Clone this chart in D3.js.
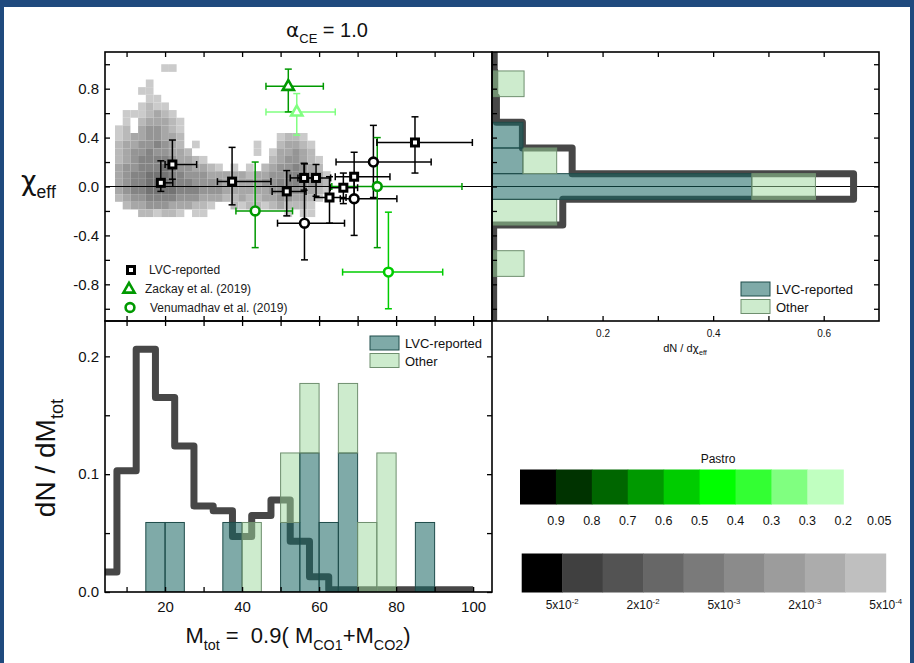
<!DOCTYPE html>
<html>
<head>
<meta charset="utf-8">
<script src="https://cdn.jsdelivr.net/npm/d3@7"></script>
<style>
  body { margin: 0; background: #1f4a7e; }
  svg { display: block; }
</style>
</head>
<body>
<svg id="chart" width="914" height="663"></svg>
<script>
// ---------- data ----------
const chiTicks = [-1.0, -0.8, -0.6, -0.4, -0.2, 0.0, 0.2, 0.4, 0.6, 0.8, 1.0];
const chiTickLabels = [-0.8, -0.4, 0.0, 0.4, 0.8];
const massTicks = [10, 20, 30, 40, 50, 60, 70, 80, 90, 100];
const massTickLabels = [20, 40, 60, 80, 100];
const chiDensTicks = [0.1, 0.2, 0.3, 0.4, 0.5, 0.6];
const chiDensTickLabels = [0.2, 0.4, 0.6];
const massDensTicks = [0, 0.05, 0.1, 0.15, 0.2];
const massDensTickLabels = [0, 0.1, 0.2];

// model density map (grey cells): rows from chi = 1.0 downwards, columns from M = 7 upwards
const heatM0 = 7, heatDM = 2, heatChiTop = 1.0, heatDChi = 0.0625;
const heatRows = [
  "0000001100000000000000000000",
  "0000000000000000000000000000",
  "0000100000000000000000000000",
  "0001100000000000000000000000",
  "0000110000000000000000000000",
  "0001211000000000000000000000",
  "0111232100000000000000000000",
  "0102333210000000000000000000",
  "1203443210000000000000000000",
  "1233443320000000000001221000",
  "2334454320100000001002332100",
  "2344544332000000001013343200",
  "2345555433210000000023443210",
  "3445556544332101010234454320",
  "3455666554443333323344555431",
  "3455666655444433333445554432",
  "3455666655544433333344544321",
  "2344555544433322322334433210",
  "0233444333221002122123222100",
  "0002212210110000000000101100"
];

// [M, chi, M low, M high, chi low, chi high]
const lvcEvents = [
  [18.9, 0.03, 18.0, 22.0, -0.04, 0.21],
  [21.9, 0.18, 20.0, 28.2, 0.06, 0.38],
  [37.4, 0.04, 33.6, 47.5, -0.15, 0.32],
  [51.6, -0.04, 47.8, 56.6, -0.24, 0.13],
  [56.1, 0.07, 52.5, 59.0, -0.03, 0.19],
  [59.2, 0.07, 54.5, 63.0, -0.08, 0.18],
  [62.7, -0.09, 58.8, 67.0, -0.30, 0.08],
  [66.3, -0.01, 62.9, 70.0, -0.14, 0.11],
  [69.1, 0.08, 64.2, 78.4, -0.09, 0.28],
  [84.9, 0.36, 75.0, 99.8, 0.11, 0.57]
];
// [M, chi, M low, M high, chi low, chi high, Pastro]
const venumadhavEvents = [
  [56.2, -0.30, 49.2, 66.6, -0.60, 0.185, 0.95],
  [69.1, -0.10, 65.5, 80.2, -0.40, 0.10, 0.95],
  [74.1, 0.20, 64.4, 89.1, -0.09, 0.50, 0.95],
  [43.4, -0.20, 38.4, 53.1, -0.50, 0.20, 0.65],
  [75.1, 0.00, 63.3, 97.1, -0.50, 0.40, 0.65],
  [78.0, -0.70, 66.1, 92.1, -1.00, -0.21, 0.55]
];
const zackayEvents = [
  [52.0, 0.82, 46.2, 61.1, 0.61, 0.96, 0.65],
  [54.2, 0.61, 46.2, 64.2, 0.42, 0.76, 0.22]
];

// chi histogram (bins of width 0.21 centred on 0)
const chiBinWidth = 0.21;
const chiBinCenters = [-1.05, -0.84, -0.63, -0.42, -0.21, 0.0, 0.21, 0.42, 0.63, 0.84, 1.05];
const chiLVC   = [0, 0, 0, 0, 0, 0.47, 0.056, 0.056, 0, 0, 0];
const chiOther = [0, 0, 0.058, 0, 0.117, 0.115, 0.061, 0, 0, 0.058, 0];
const chiModel = [0.003, 0.003, 0.003, 0.003, 0.128, 0.654, 0.145, 0.055, 0.008, 0.005, 0.004];

// mass histogram (bins of width 5)
const massBinWidth = 5;
const massBinStart = [15, 20, 25, 30, 35, 40, 45, 50, 55, 60, 65, 70, 75, 80, 85];
const massLVC   = [0.059, 0.059, 0, 0, 0.059, 0, 0, 0.059, 0.118, 0.059, 0.118, 0, 0, 0, 0.059];
const massOther = [0, 0, 0, 0, 0, 0.059, 0, 0.059, 0.059, 0, 0.059, 0.059, 0.118, 0, 0];
const modelMassCenters = [5, 10, 15, 20, 25, 30, 35, 40, 45, 50, 55, 60, 65, 70, 75, 80, 85, 90, 95, 100];
const modelMass = [0.017, 0.103, 0.206, 0.165, 0.124, 0.073, 0.069, 0.047, 0.065, 0.078, 0.043, 0.013,
                   0.002, 0.002, 0.002, 0.002, 0.002, 0.002, 0.002, 0.002];
const modelMassEnd = 100;

// colour bars
const pastroColors = ['#000000', '#003300', '#006600', '#009900', '#00cc00', '#00ff00', '#33ff33', '#80ff80', '#c0ffc0'];
const pastroLabels = ['0.9', '0.8', '0.7', '0.6', '0.5', '0.4', '0.3', '0.3', '0.2', '0.05'];
const greyColors = ['#000000', '#404040', '#535353', '#676767', '#7a7a7a', '#8b8b8b', '#9c9c9c', '#acacac', '#bfbfbf'];
const greyLabels = [['5x10', '-2'], ['2x10', '-2'], ['5x10', '-3'], ['2x10', '-3'], ['5x10', '-4']];
const heatShades = ['none', '#cbcbcb', '#b9b9b9', '#a7a7a7', '#959595', '#848484', '#737373'];

// ---------- setup ----------
const W = 914, H = 663;
const FONT = '"Liberation Sans", Arial, sans-serif';
const GREEK = '"DejaVu Sans", sans-serif';
const L = 105, MID = 492, R = 879, T = 52, HM = 321, B = 592;

const svg = d3.select('#chart').attr('font-family', FONT);
svg.append('rect').attr('width', W).attr('height', H).attr('fill', '#1f4a7e');
svg.append('rect').attr('x', 4).attr('y', 7).attr('width', 906).attr('height', H - 7).attr('fill', '#fff');

const xM = d3.scaleLinear().domain([4.4, 104.9]).range([L, MID]);
const yChi = d3.scaleLinear().domain([-1.1, 1.1]).range([HM, T]);
const xDen = d3.scaleLinear().domain([0, 0.7]).range([MID, R]);
const yDen = d3.scaleLinear().domain([0, 0.23]).range([B, HM]);
const pastroColor = d3.scaleThreshold()
  .domain([0.2, 0.3, 0.4, 0.5, 0.6, 0.7, 0.8, 0.9])
  .range(pastroColors.slice().reverse());

const defs = svg.append('defs');
function clip(id, x, y, w, h) {
  defs.append('clipPath').attr('id', id).append('rect').attr('x', x).attr('y', y).attr('width', w).attr('height', h);
  return `url(#${id})`;
}
const clipTL = clip('ctl', L, T, MID - L, HM - T);
const clipTR = clip('ctr', MID, T, R - MID, HM - T);
const clipBL = clip('cbl', L, HM, MID - L, B - HM);

// text with sub/superscripts; mode 'g' = greek letter
function rich(text, parts, size) {
  let shift = 0;
  text.style('white-space', 'pre');
  parts.forEach(p => {
    const [t, mode] = typeof p === 'string' ? [p, null] : p;
    const target = mode === 'sub' ? size * 0.3 : mode === 'sup' ? -size * 0.42 : 0;
    const small = mode === 'sub' || mode === 'sup';
    const ts = text.append('tspan').attr('dy', target - shift).attr('font-size', small ? size * 0.65 : size).text(t);
    if (mode === 'g') ts.attr('font-family', GREEK);
    shift = target;
  });
  return text;
}

function axis(gen, scale, values, labels, fmt, pos, size, pad) {
  const g = svg.append('g')
    .attr('transform', pos)
    .call(gen(scale).tickValues(values).tickSizeInner(-5).tickSizeOuter(0).tickPadding(pad)
      .tickFormat(d => labels.includes(d) ? fmt(d) : ''));
  g.select('.domain').remove();
  g.attr('font-family', FONT).attr('font-size', size);
  g.selectAll('line').attr('stroke', '#000').attr('stroke-width', 1.3);
  g.selectAll('text').attr('fill', '#111');
  return g;
}
const f1 = d => d.toFixed(1);

// ---------- top-left: chi_eff vs M_tot ----------
const tl = svg.append('g').attr('clip-path', clipTL);
heatRows.forEach((row, r) => {
  row.split('').forEach((ch, c) => {
    const lvl = +ch;
    if (!lvl) return;
    const m0 = heatM0 + c * heatDM, c0 = heatChiTop - r * heatDChi;
    tl.append('rect')
      .attr('x', xM(m0)).attr('width', xM(m0 + heatDM) - xM(m0))
      .attr('y', yChi(c0)).attr('height', yChi(c0 - heatDChi) - yChi(c0))
      .attr('fill', heatShades[lvl]);
  });
});

// zero line through both top panels
svg.append('line').attr('x1', L).attr('x2', R).attr('y1', yChi(0)).attr('y2', yChi(0))
  .attr('stroke', '#000').attr('stroke-width', 1);

function errorBars(g, d, color) {
  const [m, chi, mLo, mHi, cLo, cHi] = d;
  const cap = 3.5;
  const eb = g.append('g').attr('stroke', color).attr('stroke-width', 1.5);
  eb.append('line').attr('x1', xM(mLo)).attr('x2', xM(mHi)).attr('y1', yChi(chi)).attr('y2', yChi(chi));
  eb.append('line').attr('x1', xM(m)).attr('x2', xM(m)).attr('y1', yChi(cLo)).attr('y2', yChi(cHi));
  [mLo, mHi].forEach(v => eb.append('line').attr('x1', xM(v)).attr('x2', xM(v))
    .attr('y1', yChi(chi) - cap).attr('y2', yChi(chi) + cap));
  [cLo, cHi].forEach(v => eb.append('line').attr('y1', yChi(v)).attr('y2', yChi(v))
    .attr('x1', xM(m) - cap).attr('x2', xM(m) + cap));
}

function marker(g, type, x, y, color) {
  if (type === 'square') {
    g.append('rect').attr('x', x - 3.5).attr('y', y - 3.5).attr('width', 7).attr('height', 7)
      .attr('fill', '#fff').attr('stroke', color).attr('stroke-width', 3);
  } else if (type === 'circle') {
    g.append('circle').attr('cx', x).attr('cy', y).attr('r', 4.4)
      .attr('fill', '#fff').attr('stroke', color).attr('stroke-width', 2.6);
  } else {
    g.append('path').attr('d', `M${x},${y - 6.2}L${x + 5.6},${y + 3.6}L${x - 5.6},${y + 3.6}Z`)
      .attr('fill', '#fff').attr('stroke', color).attr('stroke-width', 2.6).attr('stroke-linejoin', 'miter');
  }
}

const pts = svg.append('g').attr('clip-path', clipTL);
zackayEvents.slice().reverse().forEach(d => errorBars(pts, d, pastroColor(d[6])));
venumadhavEvents.forEach(d => errorBars(pts, d, pastroColor(d[6])));
lvcEvents.forEach(d => errorBars(pts, d, '#000'));
zackayEvents.slice().reverse().forEach(d => marker(pts, 'triangle', xM(d[0]), yChi(d[1]), pastroColor(d[6])));
venumadhavEvents.forEach(d => marker(pts, 'circle', xM(d[0]), yChi(d[1]), pastroColor(d[6])));
lvcEvents.forEach(d => marker(pts, 'square', xM(d[0]), yChi(d[1]), '#000'));

// legend
const leg = svg.append('g').attr('font-size', 12).attr('fill', '#1a1a1a');
marker(leg, 'square', 131, 270, '#000');
marker(leg, 'triangle', 129, 289, '#009900');
marker(leg, 'circle', 130, 307.5, '#009900');
leg.append('text').attr('x', 149).attr('y', 274).text('LVC-reported');
leg.append('text').attr('x', 145).attr('y', 293).text('Zackay et al. (2019)');
leg.append('text').attr('x', 150).attr('y', 312).text('Venumadhav et al. (2019)');

// axes of top-left
axis(d3.axisLeft, yChi, chiTicks, chiTickLabels, f1, `translate(${L},0)`, 15, 6);
axis(d3.axisTop, xM, massTicks, [], f1, `translate(0,${T})`, 15, 6);
axis(d3.axisBottom, xM, massTicks, [], f1, `translate(0,${HM})`, 15, 6);

// ---------- top-right: chi_eff histogram ----------
const tr = svg.append('g').attr('clip-path', clipTR);
const chiModelPts = [];
chiBinCenters.forEach((c, i) => {
  chiModelPts.push([chiModel[i], c - chiBinWidth / 2], [chiModel[i], c + chiBinWidth / 2]);
});
tr.append('path')
  .attr('d', d3.line().x(d => xDen(d[0])).y(d => yChi(d[1]))(chiModelPts))
  .attr('fill', 'none').attr('stroke', '#474747').attr('stroke-width', 7).attr('stroke-linejoin', 'round');

chiBinCenters.forEach((c, i) => {
  const y0 = yChi(c + chiBinWidth / 2), h = yChi(c - chiBinWidth / 2) - y0;
  if (chiLVC[i] > 0) {
    tr.append('rect').attr('x', xDen(0)).attr('y', y0).attr('width', xDen(chiLVC[i]) - xDen(0)).attr('height', h)
      .attr('fill', 'rgb(22,100,97)').attr('fill-opacity', 0.55).attr('stroke', '#1f4c4a').attr('stroke-width', 1);
  }
  if (chiOther[i] > 0) {
    tr.append('rect').attr('x', xDen(chiLVC[i])).attr('y', y0)
      .attr('width', xDen(chiLVC[i] + chiOther[i]) - xDen(chiLVC[i])).attr('height', h)
      .attr('fill', 'rgb(155,215,155)').attr('fill-opacity', 0.5).attr('stroke', '#6f8f6f').attr('stroke-width', 1);
  }
});

axis(d3.axisLeft, yChi, chiTicks, [], f1, `translate(${MID},0)`, 15, 6);
axis(d3.axisRight, yChi, chiTicks, [], f1, `translate(${R},0)`, 15, 6);
axis(d3.axisTop, xDen, chiDensTicks, [], f1, `translate(0,${T})`, 10, 6);
axis(d3.axisBottom, xDen, chiDensTicks, chiDensTickLabels, f1, `translate(0,${HM})`, 10, 9);

rich(svg.append('text').attr('x', 685).attr('y', 352).attr('text-anchor', 'middle').attr('fill', '#111'),
  ['dN / d', ['\u03c7', 'g'], ['eff', 'sub']], 11);

function histLegend(x, y, size) {
  const g = svg.append('g').attr('font-size', size).attr('fill', '#111');
  g.append('rect').attr('x', x).attr('y', y).attr('width', 29).attr('height', 14)
    .attr('fill', 'rgb(22,100,97)').attr('fill-opacity', 0.55).attr('stroke', '#1f4c4a');
  g.append('rect').attr('x', x).attr('y', y + 17.5).attr('width', 29).attr('height', 14)
    .attr('fill', 'rgb(155,215,155)').attr('fill-opacity', 0.5).attr('stroke', '#6f8f6f');
  g.append('text').attr('x', x + 35).attr('y', y + 12).text('LVC-reported');
  g.append('text').attr('x', x + 35).attr('y', y + 29.5).text('Other');
}
histLegend(741, 282, 13);

// ---------- bottom-left: M_tot histogram ----------
const bl = svg.append('g').attr('clip-path', clipBL);
const massModelPts = [];
modelMassCenters.forEach((c, i) => {
  massModelPts.push([c - massBinWidth / 2, modelMass[i]], [Math.min(c + massBinWidth / 2, modelMassEnd), modelMass[i]]);
});
bl.append('path')
  .attr('d', d3.line().x(d => xM(d[0])).y(d => yDen(d[1]))(massModelPts))
  .attr('fill', 'none').attr('stroke', '#474747').attr('stroke-width', 7).attr('stroke-linejoin', 'round');

massBinStart.forEach((s, i) => {
  const x0 = xM(s), w = xM(s + massBinWidth) - x0;
  if (massLVC[i] > 0) {
    bl.append('rect').attr('x', x0).attr('width', w).attr('y', yDen(massLVC[i])).attr('height', yDen(0) - yDen(massLVC[i]))
      .attr('fill', 'rgb(22,100,97)').attr('fill-opacity', 0.55).attr('stroke', '#1f4c4a').attr('stroke-width', 1);
  }
  if (massOther[i] > 0) {
    const top = massLVC[i] + massOther[i];
    bl.append('rect').attr('x', x0).attr('width', w).attr('y', yDen(top)).attr('height', yDen(massLVC[i]) - yDen(top))
      .attr('fill', 'rgb(155,215,155)').attr('fill-opacity', 0.5).attr('stroke', '#6f8f6f').attr('stroke-width', 1);
  }
});

axis(d3.axisLeft, yDen, massDensTicks, massDensTickLabels, f1, `translate(${L},0)`, 15, 6);
axis(d3.axisRight, yDen, massDensTicks, [], f1, `translate(${MID},0)`, 15, 6);
axis(d3.axisBottom, xM, massTicks, massTickLabels, d => d, `translate(0,${B})`, 15, 9);
axis(d3.axisTop, xM, massTicks, [], f1, `translate(0,${HM})`, 15, 6);
histLegend(370, 336, 13);

// panel frames
[[L, T, MID, HM], [MID, T, R, HM], [L, HM, MID, B]].forEach(([x0, y0, x1, y1]) => {
  svg.append('rect').attr('x', x0).attr('y', y0).attr('width', x1 - x0).attr('height', y1 - y0)
    .attr('fill', 'none').attr('stroke', '#000').attr('stroke-width', 1.6);
});

// ---------- titles ----------
rich(svg.append('text').attr('x', 327).attr('y', 37).attr('text-anchor', 'middle').attr('fill', '#111'),
  [['\u03b1', 'g'], ['CE', 'sub'], ' = 1.0'], 20);
rich(svg.append('text').attr('x', 21).attr('y', 190).attr('fill', '#111'),
  [['\u03c7', 'g'], ['eff', 'sub']], 27);
rich(svg.append('text').attr('transform', 'translate(55,458) rotate(-90)').attr('text-anchor', 'middle').attr('fill', '#111'),
  ['dN / dM', ['tot', 'sub']], 28);
rich(svg.append('text').attr('x', 298).attr('y', 643).attr('text-anchor', 'middle').attr('fill', '#111'),
  ['M', ['tot', 'sub'], ' =  0.9( M', ['CO1', 'sub'], '+M', ['CO2', 'sub'], ')'], 22);

// ---------- colour bars ----------
const pastroX = d3.scaleLinear().domain([0, pastroColors.length]).range([520, 843.3]);
svg.append('text').attr('x', 718).attr('y', 463).attr('text-anchor', 'middle').attr('font-size', 12).attr('fill', '#111').text('Pastro');
pastroColors.forEach((c, i) => {
  svg.append('rect').attr('x', pastroX(i)).attr('y', 469.5).attr('width', pastroX(i + 1) - pastroX(i) + 0.5)
    .attr('height', 35).attr('fill', c);
});
pastroLabels.forEach((t, i) => {
  svg.append('text').attr('x', pastroX(i + 1)).attr('y', 525).attr('text-anchor', 'middle')
    .attr('font-size', 12.5).attr('fill', '#111').text(t);
});

const greyX = d3.scaleLinear().domain([0, greyColors.length]).range([521.7, 885.7]);
greyColors.forEach((c, i) => {
  svg.append('rect').attr('x', greyX(i)).attr('y', 553.5).attr('width', greyX(i + 1) - greyX(i) + 0.5)
    .attr('height', 39).attr('fill', c);
});
greyLabels.forEach((p, i) => {
  rich(svg.append('text').attr('x', greyX(2 * i + 1)).attr('y', 609).attr('text-anchor', 'middle').attr('fill', '#111'),
    [p[0], [p[1], 'sup']], 12);
});
</script>
</body>
</html>
